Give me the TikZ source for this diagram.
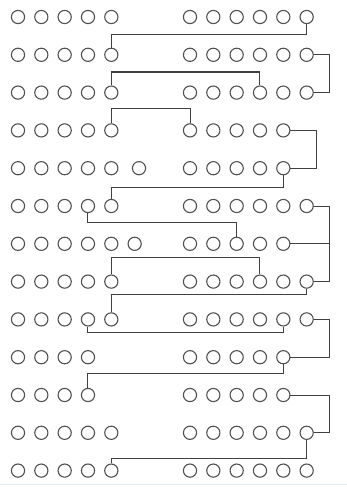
\documentclass[tikz,border=0pt]{standalone}
\definecolor{beadgray}{HTML}{505050}
\definecolor{linegray}{HTML}{404040}
\definecolor{edgeblue}{HTML}{DCEEF6}
\begin{document}
\begin{tikzpicture}[x=1pt,y=-1pt,
  bead/.style={circle,draw=beadgray,line width=1.1pt,minimum size=13.2pt,inner sep=0pt},
  conn/.style={draw=linegray,line width=1pt}]
\fill[white] (0,0) rectangle (347,487);
\useasboundingbox (0,0) rectangle (347,487);
\fill[edgeblue] (0,483.5) rectangle (347,485);
% beads
\foreach \r/\y/\nl/\nr in {1/17/5/6, 2/54.8/5/6, 3/92.6/5/6, 4/130.4/5/5, 5/168.2/5/5,
  6/206/5/6, 7/243.8/6/5, 8/281.6/5/6, 9/319.4/5/6, 10/357.2/4/5, 11/395/4/5,
  12/432.8/5/6, 13/470.6/5/6} {
  \foreach \c in {1,...,\nl} \node[bead] (L-\r-\c) at ({18+(\c-1)*23.33},\y) {};
  \foreach \c in {1,...,\nr} \node[bead] (R-\r-\c) at ({190+(\c-1)*23.33},\y) {};
}
\node[bead] (L-5-6) at (139,168.2) {};
% helper coordinates
\coordinate (h1) at (0,35);
\coordinate (h2) at (0,72);
\coordinate (h3) at (0,108);
\coordinate (h6) at (0,187);
\coordinate (h7) at (0,222);
\coordinate (h9) at (0,257);
\coordinate (h10) at (0,294);
\coordinate (h11) at (0,332);
\coordinate (h13) at (0,373);
\coordinate (h15) at (0,458);
\coordinate (vA) at (329,0);
\coordinate (vB) at (316,0);
% connectors left to right
\draw[conn] (L-2-5.north) -- (L-2-5.north |- h1) -| (R-1-6.south);
\draw[conn] (L-3-5.north) -- (L-3-5.north |- h2) -| (R-3-4.north);
\draw[conn] (L-4-5.north) -- (L-4-5.north |- h3) -| (R-4-1.north);
\draw[conn] (L-6-5.north) -- (L-6-5.north |- h6) -| (R-5-5.south);
\draw[conn] (L-6-4.south) -- (L-6-4.south |- h7) -| (R-7-3.north);
\draw[conn] (L-8-5.north) -- (L-8-5.north |- h9) -| (R-8-4.north);
\draw[conn] (L-9-5.north) -- (L-9-5.north |- h10) -| (R-8-6.south);
\draw[conn] (L-9-4.south) -- (L-9-4.south |- h11) -| (R-9-5.south);
\draw[conn] (L-11-4.north) -- (L-11-4.north |- h13) -| (R-10-5.south);
\draw[conn] (L-13-5.north) -- (L-13-5.north |- h15) -| (R-12-6.south);
% brackets on the right
\draw[conn] (R-2-6.east) -- (R-2-6.east -| vA) -- (R-3-6.east -| vA) -- (R-3-6.east);
\draw[conn] (R-4-5.east) -- (R-4-5.east -| vB) -- (R-5-5.east -| vB) -- (R-5-5.east);
\draw[conn] (R-6-6.east) -- (R-6-6.east -| vA) -- (R-8-6.east -| vA) -- (R-8-6.east);
\draw[conn] (R-7-5.east) -- (R-7-5.east -| vA);
\draw[conn] (R-9-6.east) -- (R-9-6.east -| vA) -- (R-10-5.east -| vA) -- (R-10-5.east);
\draw[conn] (R-11-5.east) -- (R-11-5.east -| vA) -- (R-12-6.east -| vA) -- (R-12-6.east);
\end{tikzpicture}
\end{document}
